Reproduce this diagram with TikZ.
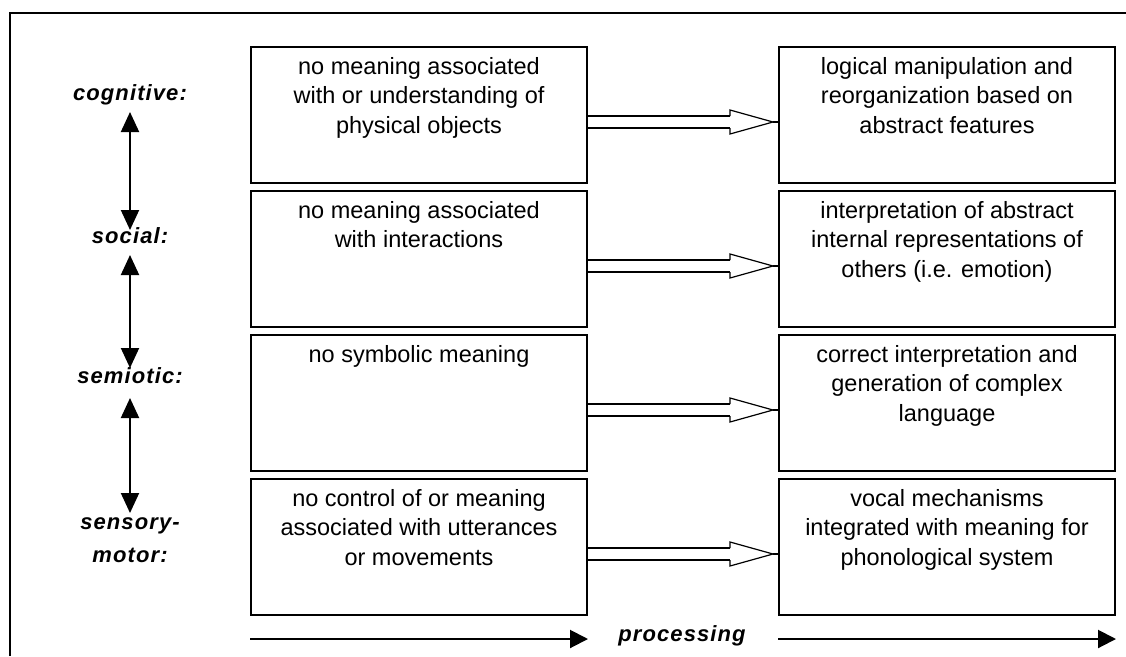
\documentclass[tikz,border=0pt]{standalone}
\usepackage{fontspec}
\setmainfont{Liberation Sans}
\newfontfamily\levelfont[LetterSpace=5]{Liberation Sans}
\usetikzlibrary{arrows.meta,calc}

% hollow double-stemmed arrow from the right side of #1 to the left side of #2
\newcommand\hollowflow[2]{%
  \path ($(#1.east)+(0,7)$) coordinate (hs) ($(#2.west)+(0,7)$) coordinate (ht);
  \draw[stem] ($(hs)+(0,-6)$) -- ($(ht)+(-48,-6)$)
              ($(hs)+(0,6)$)  -- ($(ht)+(-48,6)$);
  \draw[head] ($(ht)+(-48,-6)$) -- ($(ht)+(-48,-12)$) -- ($(ht)+(-5,0)$)
              -- ($(ht)+(-48,12)$) -- ($(ht)+(-48,6)$);
  \draw[head] ($(ht)+(-5,0)$) -- (ht);
}

\begin{document}
\begin{tikzpicture}[x=1pt,y=-1pt,
  panel/.style={draw, line width=2pt, minimum width=336pt, minimum height=136pt,
                inner sep=0pt, anchor=north west},
  boxtext/.style={anchor=base, inner sep=0pt, font=\fontsize{23.5}{29.5}\selectfont},
  level/.style={anchor=base, inner sep=0pt,
                font=\levelfont\bfseries\itshape\fontsize{22}{33}\selectfont},
  link/.style={line width=2pt,
               {Triangle[length=20pt,width=18pt]}-{Triangle[length=20pt,width=18pt]}},
  flow/.style={line width=2pt, -{Triangle[length=18pt,width=18pt]}},
  stem/.style={line width=2pt},
  head/.style={line width=1.2pt}]

\fill[white] (0,0) rectangle (1126,656);
\useasboundingbox (0,0) rectangle (1126,656);

% outer frame (top and left edges)
\draw[line width=2pt] (10,656) -- (10,13) -- (1126,13);

% level labels
\node[level] (cog) at (130,100) {cognitive:};
\node[level] (soc) at (130,243) {social:};
\node[level] (sem) at (130,383) {semiotic:};
\node[level] (sen) at (130,529) {\parbox[t]{120pt}{\centering sensory-\\motor:}};

\draw[link] ($(cog.base)+(0,12)$) -- ($(soc.base)+(0,-13)$);
\draw[link] ($(soc.base)+(0,12)$) -- ($(sem.base)+(0,-15)$);
\draw[link] ($(sem.base)+(0,15)$) -- ($(sen.base)+(0,-16)$);

% boxes
\node[panel] (L1) at (250,46)  {};
\node[panel] (L2) at (250,190) {};
\node[panel] (L3) at (250,334) {};
\node[panel] (L4) at (250,478) {};
\node[panel] (R1) at (778,46)  {};
\node[panel] (R2) at (778,190) {};
\node[panel] (R3) at (778,334) {};
\node[panel] (R4) at (778,478) {};

% box texts
\node[boxtext] (L1t) at ($(L1.north)+(0,28)$) {\parbox[t]{330pt}{\centering
  no meaning associated\\with or understanding of\\physical objects}};
\node[boxtext] (R1t) at ($(R1.north)+(0,28)$) {\parbox[t]{330pt}{\centering
  logical manipulation and\\reorganization based on\\abstract features}};
\node[boxtext] (L2t) at ($(L2.north)+(0,28)$) {\parbox[t]{330pt}{\centering
  no meaning associated\\with interactions}};
\node[boxtext] (R2t) at ($(R2.north)+(0,28)$) {\parbox[t]{330pt}{\centering
  interpretation of abstract\\internal representations of\\others (i.e. emotion)}};
\node[boxtext] (L3t) at ($(L3.north)+(0,28)$) {\parbox[t]{330pt}{\centering
  no symbolic meaning}};
\node[boxtext] (R3t) at ($(R3.north)+(0,28)$) {\parbox[t]{330pt}{\centering
  correct interpretation and\\generation of complex\\language}};
\node[boxtext] (L4t) at ($(L4.north)+(0,28)$) {\parbox[t]{330pt}{\centering
  no control of or meaning\\associated with utterances\\or movements}};
\node[boxtext] (R4t) at ($(R4.north)+(0,28)$) {\parbox[t]{330pt}{\centering
  vocal mechanisms\\integrated with meaning for\\phonological system}};

% processing arrows between columns
\hollowflow{L1}{R1}
\hollowflow{L2}{R2}
\hollowflow{L3}{R3}
\hollowflow{L4}{R4}

% processing axis
\node[level] (proc) at (682,641) {processing};
\draw[flow] ($(L4.south west)+(0,23)$) coordinate (pa) -- ($(L4.south east)+(0,23)$);
\draw[flow] ($(R4.south west)+(0,23)$) coordinate (pb) -- ($(R4.south east)+(0,23)$);

\end{tikzpicture}
\end{document}
